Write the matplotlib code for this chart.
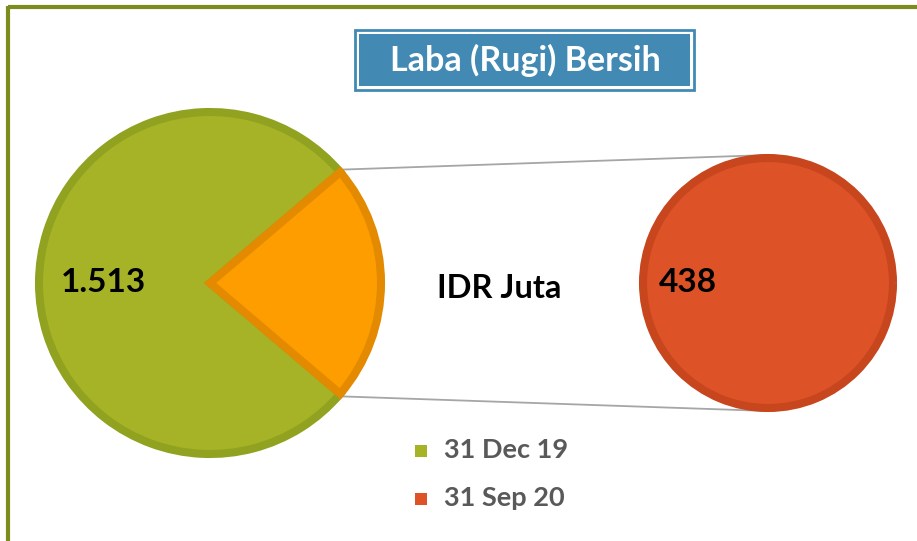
import matplotlib
matplotlib.use("Agg")
import matplotlib.pyplot as plt
from matplotlib.patches import Rectangle
import numpy as np

# ---- data ----
categories = ["31 Dec 19", "31 Sep 20"]
values = [1513, 438]
labels_txt = ["1.513", "438"]
title = "Laba (Rugi) Bersih"
unit_label = "IDR Juta"

# ---- style ----
green_fill, green_edge = "#A7B327", "#90A21F"
orange_fill, orange_edge = "#FE9D00", "#E48A00"
red_fill, red_edge = "#DD5227", "#C7461E"
blue = "#428AB4"
frame_col = "#7E8B1E"
FONT = ["Lato", "DejaVu Sans"]

W, H = 917, 541
fig = plt.figure(figsize=(W / 100, H / 100), dpi=100)
ax = fig.add_axes([0, 0, 1, 1])

# primary pie
c1, r1 = (210, 283), 171
half = 180.0 * values[1] / sum(values)
wedges, _ = ax.pie(values, center=c1, radius=r1, startangle=half,
                   colors=[green_fill, orange_fill], counterclock=True,
                   wedgeprops=dict(linewidth=5.8), frame=True)
wedges[0].set_edgecolor(green_edge)
wedges[1].set_edgecolor(orange_edge)

# secondary pie
c2, r2 = (768, 283), 125
w2, _ = ax.pie([values[1]], center=c2, radius=r2, colors=[red_fill],
               wedgeprops=dict(linewidth=5.8, edgecolor=red_edge), frame=True)

ax.set_xlim(0, W)
ax.set_ylim(H, 0)
ax.set_aspect("equal")
ax.axis("off")

# frame (top + left)
ax.plot([8, W + 5], [7, 7], color=frame_col, lw=3.0, solid_capstyle="butt")
ax.plot([8, 8], [5.5, H + 5], color=frame_col, lw=3.0, solid_capstyle="butt")

# connector lines
Ro = r1 + 4
for sgn in (1, -1):
    a = np.deg2rad(half)
    x0 = c1[0] + Ro * np.cos(a)
    y0 = c1[1] - sgn * Ro * np.sin(a)
    x1 = c2[0]
    y1 = c2[1] - sgn * (r2 + 3)
    ax.plot([x0, x1], [y0, y1], color="#A6A6A6", lw=1.3, zorder=0)

# value labels
ax.text(61, 282, labels_txt[0], fontsize=24, fontweight="bold", family=FONT,
        ha="left", va="center", color="black")
ax.text(659, 282, labels_txt[1], fontsize=24, fontweight="bold", family=FONT,
        ha="left", va="center", color="black")
ax.text(499, 289, unit_label, fontsize=23.5, fontweight="bold", family=FONT,
        ha="center", va="center", color="black")

# title box
ax.add_patch(Rectangle((355, 30), 339, 60, facecolor="white", edgecolor=blue, lw=2.0, zorder=5))
ax.add_patch(Rectangle((359, 34), 331, 52, facecolor=blue, edgecolor="none", zorder=6))
ax.text(525, 60, title, fontsize=24.5, fontweight="bold", family=FONT,
        ha="center", va="center", color="white", zorder=7)

# legend
leg_cols = [green_fill, red_fill]
for i, (cat, col) in enumerate(zip(categories, leg_cols)):
    y = 451 + i * 48
    ax.add_patch(Rectangle((415, y - 6), 12, 12, facecolor=col, edgecolor="none"))
    ax.text(444, y - 1, cat, fontsize=19.5, fontweight="bold", family=FONT,
            ha="left", va="center", color="#595959")

fig.savefig("out.png", dpi=100)
